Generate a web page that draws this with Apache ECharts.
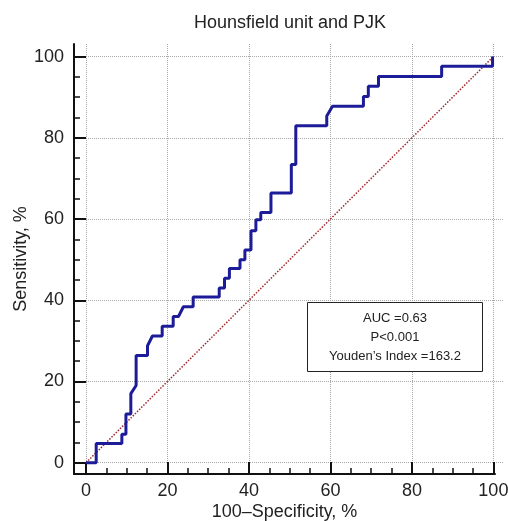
<!DOCTYPE html>
<html>
<head>
<meta charset="utf-8">
<script src="https://cdn.jsdelivr.net/npm/echarts@6/dist/echarts.min.js"></script>
<style>
  html, body { margin: 0; padding: 0; background: #fff; }
  #chart { width: 508px; height: 521px; }
</style>
</head>
<body>
<div id="chart"></div>
<script>
/* ROC curve points: 100-specificity (x) and sensitivity (y) */
var fpr = [0, 2.5, 2.5, 8.8, 8.8, 9.8, 9.8, 11, 11, 12.3, 12.3, 15.1, 15.1, 16.3, 18.7, 18.7,
    21.4, 21.4, 22.7, 23.9, 26.3, 26.3, 32.7, 32.7, 34.0, 34.0, 35.2, 35.2, 37.8, 37.8,
    39.0, 39.0, 40.5, 40.5, 41.7, 41.7, 42.9, 42.9, 45.4, 45.4, 50.4, 50.4, 51.5, 51.5,
    59.1, 59.1, 60.5, 68.1, 68.1, 69.3, 69.3, 71.8, 71.8, 87.3, 87.3, 99.8, 99.8];
var tpr = [0, 0, 4.7, 4.7, 7.0, 7.0, 12.0, 12.0, 17.0, 19.0, 26.4, 26.4, 28.8, 31.2, 31.2, 33.6,
    33.6, 36.0, 36.0, 38.4, 38.4, 40.8, 40.8, 43.0, 43.0, 45.4, 45.4, 47.8, 47.8, 50.0,
    50.0, 52.4, 52.4, 57.1, 57.1, 59.8, 59.8, 61.6, 61.6, 66.4, 66.4, 73.4, 73.4, 83.0,
    83.0, 85.4, 87.8, 87.8, 90.2, 90.2, 92.7, 92.7, 95.1, 95.1, 97.6, 97.6, 100];
/* chance line */
var diagX = [0, 100];
var diagY = [0, 100];
/* tick values */
var majorTicks = [0, 20, 40, 60, 80, 100];
var minorTicks = [5, 10, 15, 25, 30, 35, 45, 50, 55, 65, 70, 75, 85, 90, 95];
var titleText = 'Hounsfield unit and PJK';
var xName = '100\u2013Specificity, %';
var yName = 'Sensitivity, %';
var boxLines = ['AUC =0.63', 'P<0.001', 'Youden\u2019s Index =163.2'];

var initRoc = function () {
    var dom = document.getElementById('chart');
    var myChart = echarts.init(dom);
    var font = '"Liberation Sans", Arial, Helvetica, sans-serif';
    var XMIN = -2.95, YMIN = -2.78, YMAX = 103.1;

    var curveData = [];
    fpr.forEach(function (x, i) {
        curveData.push([x, tpr[i]]);
    });
    var diagData = [];
    diagX.forEach(function (x, i) {
        diagData.push([x, diagY[i]]);
    });

    var option = {
        animation: false,
        backgroundColor: '#fff',
        textStyle: { fontFamily: font },
        title: {
            text: titleText,
            left: 290,
            top: 14,
            padding: 0,
            textAlign: 'center',
            textStyle: { fontSize: 18, fontWeight: 'normal', color: '#222', fontFamily: font }
        },
        grid: [
            { left: 74, right: 13, top: 44, bottom: 47, outerBoundsMode: 'none', containLabel: false },
            { left: 74, right: 5, top: 44, bottom: 47, outerBoundsMode: 'none', containLabel: false }
        ],
        xAxis: [
            {
                gridIndex: 0, type: 'value', position: 'bottom', min: XMIN, max: 100.4,
                name: xName, nameLocation: 'middle', nameGap: 29, nameMoveOverlap: false,
                nameTextStyle: { fontSize: 18, color: '#222', fontFamily: font },
                axisLine: { onZero: false, lineStyle: { color: '#111', width: 2 } },
                axisTick: { inside: true, length: 12, customValues: majorTicks, lineStyle: { color: '#111', width: 2 } },
                axisLabel: { customValues: majorTicks, margin: 8, fontSize: 18, color: '#222', fontFamily: font },
                splitLine: { show: false }
            },
            {
                gridIndex: 0, type: 'value', position: 'bottom', min: XMIN, max: 100.4,
                axisLine: { show: false, onZero: false },
                axisTick: { inside: true, length: 6, customValues: minorTicks, lineStyle: { color: '#111', width: 1.5 } },
                axisLabel: { show: false },
                splitLine: { show: false }
            },
            {
                gridIndex: 1, type: 'value', position: 'bottom', min: XMIN, max: 102.38,
                axisLine: { show: false, onZero: false },
                axisTick: { show: false, customValues: majorTicks },
                axisLabel: { show: false, customValues: majorTicks },
                splitLine: { show: true, lineStyle: { color: '#a8a8a8', width: 1, type: 'dotted' } }
            }
        ],
        yAxis: [
            {
                gridIndex: 0, type: 'value', position: 'left', min: YMIN, max: YMAX,
                name: yName, nameLocation: 'middle', nameGap: 44, nameMoveOverlap: false,
                nameTextStyle: { fontSize: 18, color: '#222', fontFamily: font },
                axisLine: { onZero: false, lineStyle: { color: '#111', width: 2 } },
                axisTick: { inside: true, length: 12, customValues: majorTicks, lineStyle: { color: '#111', width: 2 } },
                axisLabel: { customValues: majorTicks, margin: 10, fontSize: 18, color: '#222', fontFamily: font },
                splitLine: { show: false }
            },
            {
                gridIndex: 0, type: 'value', position: 'left', min: YMIN, max: YMAX,
                axisLine: { show: false, onZero: false },
                axisTick: { inside: true, length: 6, customValues: minorTicks, lineStyle: { color: '#111', width: 1.5 } },
                axisLabel: { show: false },
                splitLine: { show: false }
            },
            {
                gridIndex: 1, type: 'value', position: 'left', min: YMIN, max: YMAX,
                axisLine: { show: false, onZero: false },
                axisTick: { show: false, customValues: majorTicks },
                axisLabel: { show: false, customValues: majorTicks },
                splitLine: { show: true, lineStyle: { color: '#a8a8a8', width: 1, type: 'dotted' } }
            }
        ],
        series: [
            {
                name: 'chance',
                type: 'line',
                xAxisIndex: 0, yAxisIndex: 0,
                data: diagData,
                showSymbol: false,
                lineStyle: { color: '#a3282b', width: 1.5, type: 'dotted' },
                z: 3
            },
            {
                name: 'ROC',
                type: 'line',
                xAxisIndex: 0, yAxisIndex: 0,
                data: curveData,
                showSymbol: false,
                lineStyle: { color: '#1c1c98', width: 3 },
                z: 4
            }
        ],
        graphic: [
            {
                type: 'rect',
                shape: { x: 307.5, y: 302.5, width: 175, height: 69 },
                style: { fill: '#fff', stroke: '#222', lineWidth: 1 },
                z: 10
            },
            {
                type: 'text',
                x: 395, y: 318,
                style: { text: boxLines[0], fontSize: 13, fill: '#222', font: '13px ' + font, textAlign: 'center', textVerticalAlign: 'middle' },
                z: 11
            },
            {
                type: 'text',
                x: 395, y: 337,
                style: { text: boxLines[1], fontSize: 13, fill: '#222', font: '13px ' + font, textAlign: 'center', textVerticalAlign: 'middle' },
                z: 11
            },
            {
                type: 'text',
                x: 395, y: 356,
                style: { text: boxLines[2], fontSize: 13, fill: '#222', font: '13px ' + font, textAlign: 'center', textVerticalAlign: 'middle' },
                z: 11
            }
        ]
    };
    myChart.setOption(option);
};
initRoc();
</script>
</body>
</html>
